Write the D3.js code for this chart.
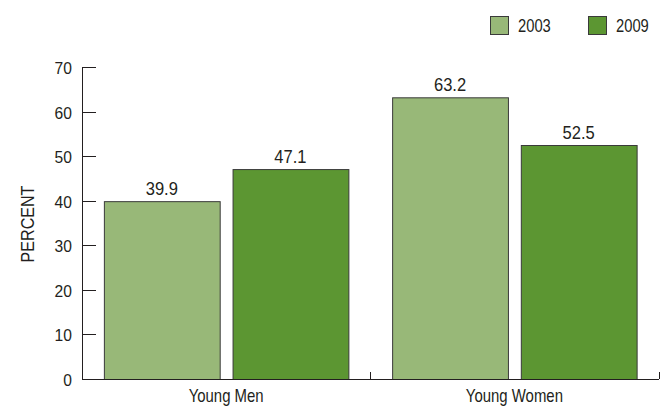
<!DOCTYPE html>
<html>
<head>
<meta charset="utf-8">
<script src="https://cdn.jsdelivr.net/npm/d3@7/dist/d3.min.js"></script>
<style>
  body { margin: 0; background: #fff; }
  svg { display: block; }
  text { font-family: "Liberation Sans", Arial, sans-serif; fill: #231f20; }
</style>
</head>
<body>
<svg id="chart" width="671" height="407"></svg>
<script>
// Share of young people, by group and survey year
const categories = ["Young Men", "Young Women"];
const years = ["2003", "2009"];
const values2003 = [39.9, 63.2];
const values2009 = [47.1, 52.5];
const yTicks = [0, 10, 20, 30, 40, 50, 60, 70];
const colors = ["#98b878", "#5c9632"];

const series = [values2003, values2009];
const svg = d3.select("#chart");
const x0 = 82, x1 = 658.5;
const yTop = 67, yBase = 379;

// Horizontally condensed label placed at (px, py)
function condensed(parent, px, py, str, size, sx, anchor) {
  return parent.append("text")
    .attr("transform", `translate(${px},${py}) scale(${sx},1)`)
    .attr("text-anchor", anchor || "start")
    .attr("font-size", size).text(str);
}

const x = d3.scaleBand().domain(categories).range([x0, x1]).paddingInner(0).paddingOuter(0);
const xs = d3.scaleBand().domain(years).range([0, x.bandwidth()]).paddingInner(0.1).paddingOuter(0.17);
const y = d3.scaleLinear().domain([0, 70]).range([yBase, yTop]);

// Bars with value labels
categories.forEach((c, ci) => {
  years.forEach((yr, si) => {
    const v = series[si][ci];
    const bx = x(c) + xs(yr);
    svg.append("rect")
      .attr("x", bx + 0.5).attr("y", y(v) + 0.5)
      .attr("width", xs.bandwidth()).attr("height", y(0) - y(v))
      .attr("fill", colors[si]).attr("stroke", "#3a3a3a").attr("stroke-width", 1);
    condensed(svg, bx + xs.bandwidth() / 2, y(v) - 6, v.toFixed(1), 18, 0.92, "middle");
  });
});

// Y axis
const yAxis = svg.append("g");
yAxis.append("line").attr("x1", x0 + 0.5).attr("x2", x0 + 0.5)
  .attr("y1", y(70)).attr("y2", yBase).attr("stroke", "#231f20");
yTicks.forEach(t => {
  const ty = Math.round(y(t)) + 0.5;
  if (t > 0) {
    yAxis.append("line").attr("x1", x0).attr("x2", x0 + 14)
      .attr("y1", ty).attr("y2", ty).attr("stroke", "#231f20");
  }
  condensed(yAxis, 72, ty + 6, t, 17, 0.92, "end");
});

// X axis
svg.append("line").attr("x1", x0).attr("x2", x1 + 0.5)
  .attr("y1", yBase + 0.5).attr("y2", yBase + 0.5).attr("stroke", "#231f20");
categories.forEach(c => {
  const tx = Math.round(x(c) + x.bandwidth()) + 0.5;
  svg.append("line").attr("x1", tx).attr("x2", tx)
    .attr("y1", yBase).attr("y2", yBase - 7).attr("stroke", "#231f20");
  condensed(svg, x(c) + x.bandwidth() / 2, 402, c, 18, 0.83, "middle");
});

// Axis title
svg.append("text").attr("transform", "translate(34,224) rotate(-90) scale(0.92,1)")
  .attr("text-anchor", "middle").attr("font-size", 17.5).text("PERCENT");

// Legend
const legendX = [490, 588];
years.forEach((yr, i) => {
  svg.append("rect").attr("x", legendX[i] + 0.5).attr("y", 16.5)
    .attr("width", 18).attr("height", 18)
    .attr("fill", colors[i]).attr("stroke", "#3a3a3a");
  condensed(svg, legendX[i] + 28, 32, yr, 18, 0.82, "start");
});
</script>
</body>
</html>
